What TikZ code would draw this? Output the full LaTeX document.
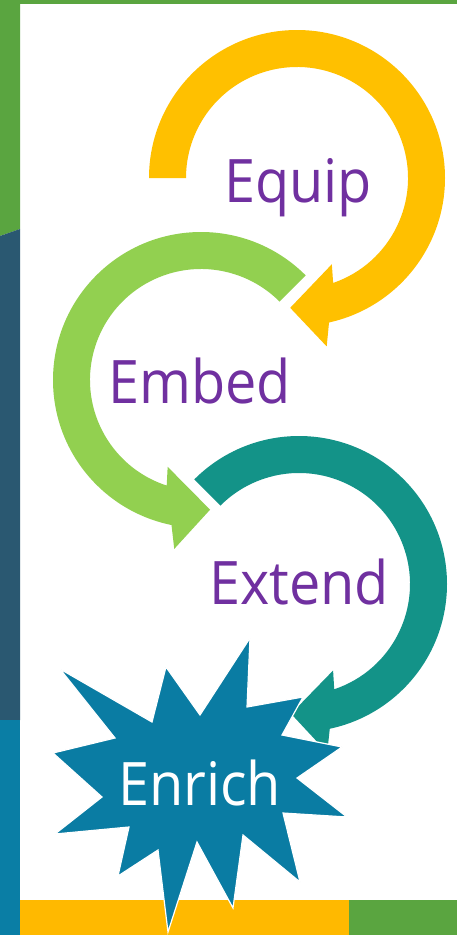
\documentclass[tikz,border=0pt]{standalone}
\usepackage{fontspec}
\setmainfont{Open Sans}
\newfontfamily\lblfont[FakeStretch=0.93]{Open Sans}
\usetikzlibrary{calc}
\definecolor{arrYellow}{HTML}{FFC000}
\definecolor{arrGreen}{HTML}{92D050}
\definecolor{arrTeal}{HTML}{139388}
\definecolor{starBlue}{HTML}{0A7CA3}
\definecolor{lblPurple}{HTML}{7030A0}
\definecolor{bgGreen}{HTML}{5AA540}
\definecolor{bgSlate}{HTML}{2A5871}
\definecolor{bgBlue}{HTML}{0A7EA5}
\definecolor{bgYellow}{HTML}{FFB900}
\newcommand{\circarrow}[6]{%
  \pgfmathsetmacro{\caOE}{#5+3.5*#6}%
  \pgfmathsetmacro{\caOB}{#5+6*#6}%
  \pgfmathsetmacro{\caTP}{#5+19*#6}%
  \pgfmathsetmacro{\caIB}{#5-6*#6}%
  \pgfmathsetmacro{\caIE}{#5-3*#6}%
  \fill[#1] ($(#2,#3)+(#4:148)$) arc[start angle=#4, end angle=\caOE, radius=148]
    -- ($(#2,#3)+(\caOB:171)$) -- ($(#2,#3)+(\caTP:130)$) -- ($(#2,#3)+(\caIB:93)$)
    -- ($(#2,#3)+(\caIE:111)$) arc[start angle=\caIE, end angle=#4, radius=111] -- cycle;
}
\tikzset{
  lbl/.style={font=\lblfont\fontsize{60}{72}\selectfont, text=lblPurple, inner sep=0pt, anchor=base west},
}
\begin{document}
\begin{tikzpicture}[x=1pt, y=-1pt]
\useasboundingbox (0,0) rectangle (457,935);
% background frame
\fill[white] (0,0) rectangle (457,935);
\fill[bgGreen] (0,0) rectangle (457,4);
\fill[bgGreen] (0,0) -- (20,0) -- (20,229) -- (0,236) -- cycle;
\fill[bgSlate] (0,236) -- (20,229) -- (20,720) -- (0,720) -- cycle;
\fill[bgBlue] (0,720) rectangle (20,935);
\fill[bgYellow] (20,900) rectangle (349,935);
\fill[bgGreen] (349,900) rectangle (457,935);
% arrows
\circarrow{arrYellow}{297}{178}{180}{434}{1}
\circarrow{arrGreen}{201}{380}{315}{105}{-1}
\circarrow{arrTeal}{299}{584}{225}{434.5}{1}
% star
\fill[starBlue, draw=white, line width=1.2pt] (60,669) -- (115,738) -- (53,753) -- (102,797) -- (55,834)
  -- (129,827) -- (118,876) -- (158,850) -- (168,932) -- (197,842) -- (233,908)
  -- (243,835) -- (300,882) -- (283,813) -- (347,817) -- (297,778) -- (342,747)
  -- (282,735) -- (303,697) -- (247,707) -- (250,638) -- (200,715) -- (166,667)
  -- (152,722) -- cycle;
% labels
\node[lbl] (equip) at (224,202) {Equip};
\node[lbl] (embed) at (108,403) {Embed};
\node[lbl] (extend) at (209,604) {Extend};
\node[lbl, text=white] (enrich) at (118,805) {Enrich};
\end{tikzpicture}
\end{document}
